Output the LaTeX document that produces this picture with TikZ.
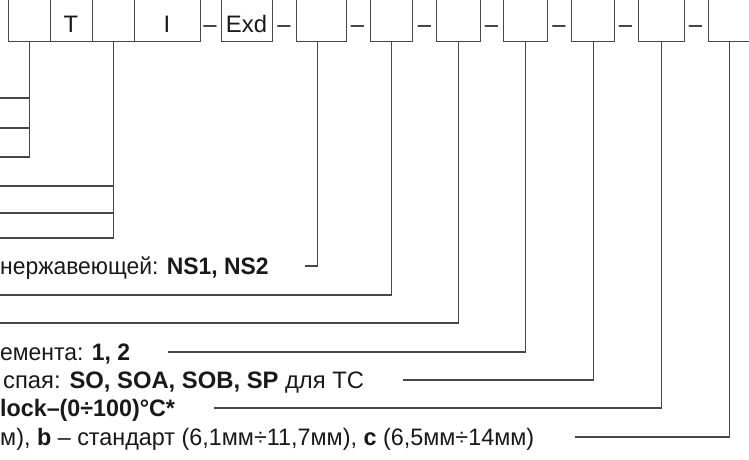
\documentclass[tikz,border=0pt]{standalone}
\usepackage{fontspec}
\setmainfont{Liberation Sans}
\newcommand{\narrowtext}[2]{\scalebox{#1}[1]{#2}}
\begin{document}
\begin{tikzpicture}[x=1pt,y=-1pt,
  ln/.style={draw=black!72,line width=1.1pt},
  box/.style={draw=black!72,line width=1.1pt,minimum height=70pt,inner sep=0pt,anchor=south west},
  txt/.style={font=\fontsize{23.8}{28}\selectfont,inner sep=0pt,text=black!90},
  ]
\useasboundingbox (0,0) rectangle (749,459);
\clip (0,0) rectangle (749,459);
% boxes
\node[box,minimum width=42pt] (b1) at (8,42) {};
\node[box,minimum width=42pt] (b2) at (50,42) {};
\node[box,minimum width=42pt] (b3) at (92,42) {};
\node[box,minimum width=66pt] (b4) at (134,42) {};
\node[box,minimum width=51pt] (b5) at (221,42) {};
\node[box,minimum width=50pt] (b6) at (296,42) {};
\node[box,minimum width=42pt] (b7) at (370,42) {};
\node[box,minimum width=44pt] (b8) at (436,42) {};
\node[box,minimum width=44pt] (b9) at (503,42) {};
\node[box,minimum width=43pt] (b10) at (571,42) {};
\node[box,minimum width=46pt] (b11) at (638,42) {};
\node[box,minimum width=50pt] (b12) at (708,42) {};
% box texts
\node[txt,anchor=base] (tT) at (71,32) {T};
\node[txt,anchor=base] (tI) at (167,32) {I};
\node[txt,anchor=base] (tE) at (246.5,32) {Exd};
% dashes
\foreach \n/\x in {d1/210,d2/284,d3/357.5,d4/424.5,d5/491.5,d6/559,d7/625.5,d8/695.5}
  \node[txt,anchor=base] (\n) at (\x,32) {–};
% left-edge coordinates
\coordinate (e1) at (0,98);
\coordinate (e2) at (0,128);
\coordinate (e3) at (0,157);
\coordinate (e4) at (0,186);
\coordinate (e5) at (0,213);
\coordinate (e6) at (0,238);
\coordinate (e7) at (0,295);
\coordinate (e8) at (0,323);
% connectors
\draw[ln] (b1.south) |- (e3);
\draw[ln] (e1) -- (e1 -| b1.south);
\draw[ln] (e2) -- (e2 -| b1.south);
\draw[ln] (b3.south) |- (e6);
\draw[ln] (e4) -- (e4 -| b3.south);
\draw[ln] (e5) -- (e5 -| b3.south);
% texts
\node[txt,anchor=base west] (l1) at (0,274) {\narrowtext{0.961}{нержавеющей: \textbf{NS1, NS2}}};
\node[txt,anchor=base west] (l2) at (0,360) {\narrowtext{0.962}{емента: \textbf{1, 2}}};
\node[txt,anchor=base west] (l3) at (3,388) {спая: \textbf{SO, SOA, SOB, SP} для ТС};
\node[txt,anchor=base west] (l4) at (0,416) {\narrowtext{0.978}{\textbf{lock–(0÷100)°C*}}};
\node[txt,anchor=base west] (l5) at (0,445) {\narrowtext{0.982}{м), \textbf{b} – стандарт (6,1мм÷11,7мм), \textbf{c} (6,5мм÷14мм)}};
\coordinate (c1) at (305,266);
\coordinate (c2) at (168,352);
\coordinate (c3) at (403,380);
\coordinate (c4) at (214,408);
\coordinate (c5) at (575,437);
\draw[ln] ([xshift=-4pt]b6.south) |- (c1);
\draw[ln] (b7.south) |- (e7);
\draw[ln] (b8.south) |- (e8);
\draw[ln] (b9.south) |- (c2);
\draw[ln] (b10.south) |- (c3);
\draw[ln] (b11.south) |- (c4);
\draw[ln] ([xshift=-4pt]b12.south) |- (c5);
\end{tikzpicture}
\end{document}
